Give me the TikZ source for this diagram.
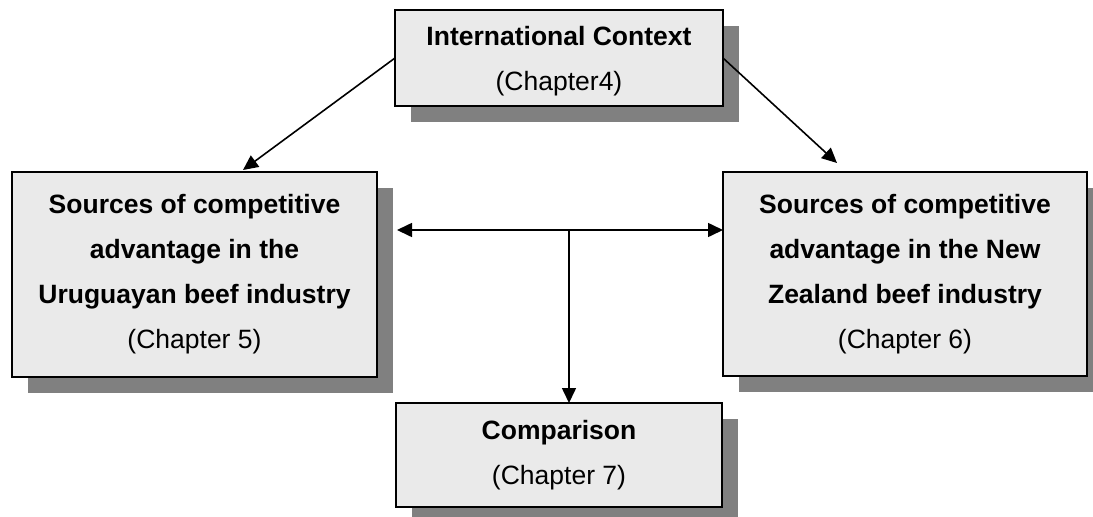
\documentclass[tikz,border=0pt]{standalone}
\usepackage{fontspec}
\setmainfont{Liberation Sans}
\usetikzlibrary{shadows,arrows.meta,calc}
\definecolor{boxfill}{HTML}{EAEAEA}
\definecolor{shadowgray}{HTML}{808080}
\tikzset{
  chapterbox/.style={draw=black, line width=1.8pt, fill=boxfill, rectangle,
    inner sep=0pt, outer sep=0pt, align=center,
    font=\fontsize{26.5}{45}\selectfont,
    drop shadow={shadow xshift=16pt, shadow yshift=-16pt, fill=shadowgray, opacity=1}},
  link/.style={line width=1.6pt, -{Triangle[length=15pt,width=14pt]}},
  dlink/.style={line width=1.6pt, {Triangle[length=15pt,width=14pt]}-{Triangle[length=15pt,width=14pt]}}
}
\begin{document}
\begin{tikzpicture}[x=1pt,y=-1pt]
\useasboundingbox (0,0) rectangle (1093,517);
\node[chapterbox, minimum width=328pt, minimum height=96pt] (top) at (559,58)
  {\rule{0pt}{26pt}\textbf{International Context}\\(Chapter4)};
\node[chapterbox, minimum width=365pt, minimum height=205pt] (left) at (194.5,274.5)
  {\textbf{Sources of competitive}\\\textbf{advantage in the}\\\textbf{Uruguayan beef industry}\\(Chapter 5)};
\node[chapterbox, minimum width=364pt, minimum height=204pt] (right) at (905,274)
  {\textbf{Sources of competitive}\\\textbf{advantage in the New}\\\textbf{Zealand beef industry}\\(Chapter 6)};
\node[chapterbox, minimum width=326pt, minimum height=104pt] (bottom) at (559,455)
  {\textbf{Comparison}\\(Chapter 7)};
\coordinate (hl) at (397,230);
\coordinate (j) at (569,230);
\draw[link] (top.west) -- ($(left.north)+(48.5,-2)$);
\draw[link] (top.east) -- ($(right.north)+(-68,-9)$);
\draw[dlink] (hl) -- (right.west |- hl);
\draw[link] (j) -- (j |- bottom.north);
\end{tikzpicture}
\end{document}
